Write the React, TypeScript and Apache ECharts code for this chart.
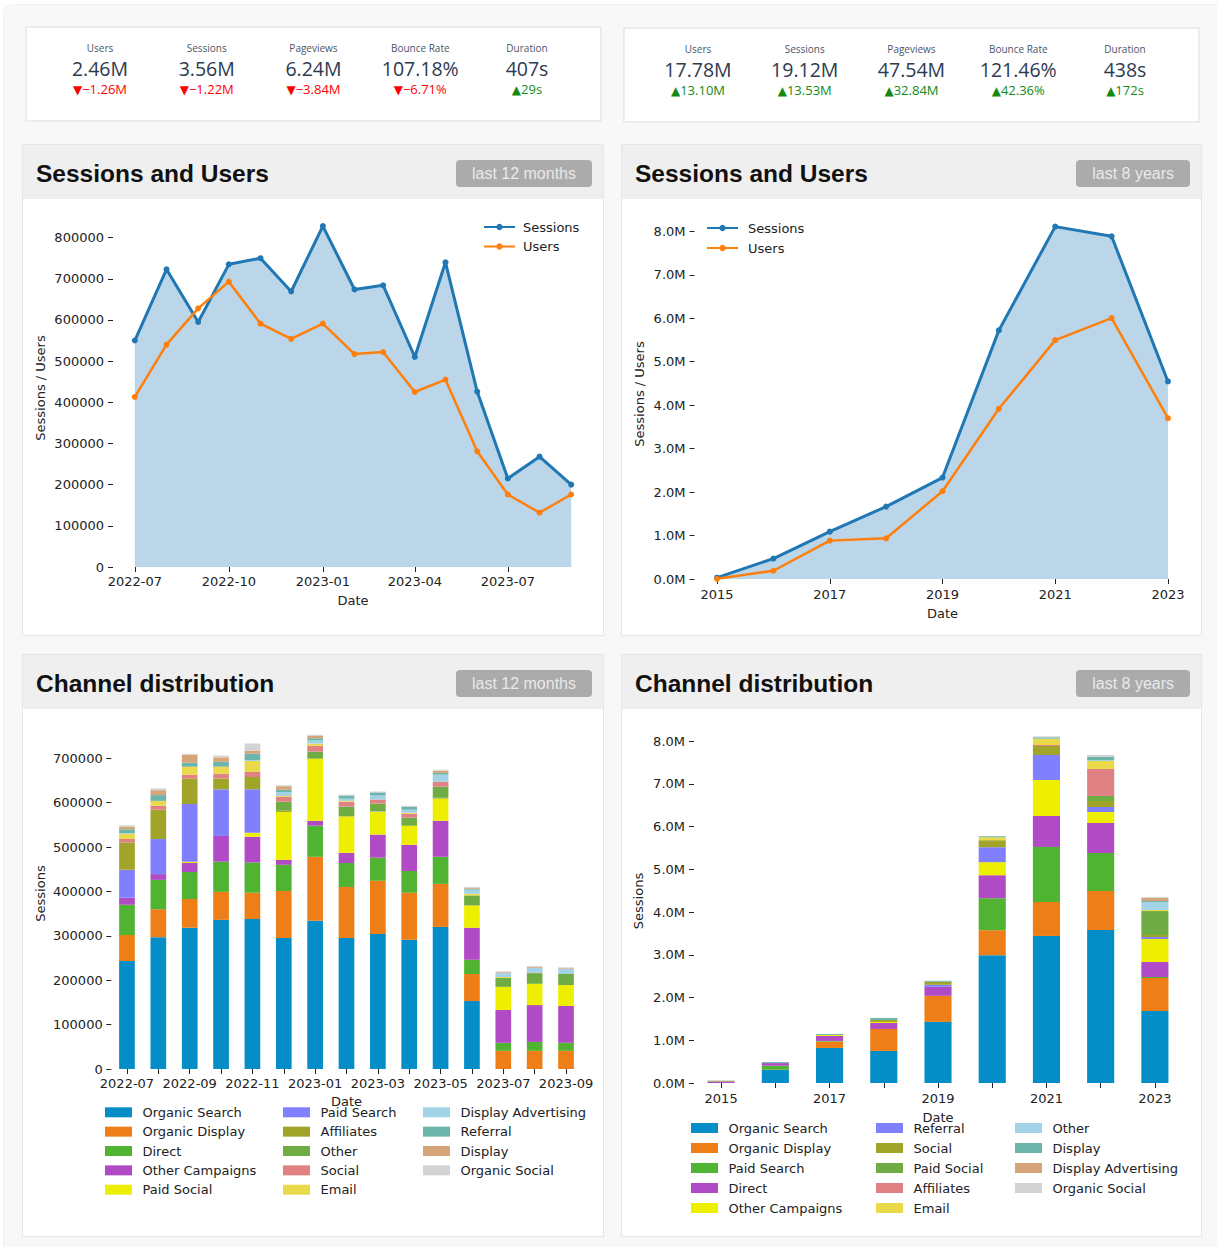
import React, { useEffect, useRef } from "react";
import * as echarts from "echarts";

const W = 1217;
const H = 1247;
const FONT = '"DejaVu Sans", sans-serif';
const TXT = "#222";

// ---------- KPI data ----------
const kpiLabels = ["Users", "Sessions", "Pageviews", "Bounce Rate", "Duration"];
const kpiLeftValues = ["2.46M", "3.56M", "6.24M", "107.18%", "407s"];
const kpiLeftDeltas = ["\u22121.26M", "\u22121.22M", "\u22123.84M", "\u22126.71%", "29s"];
const kpiLeftUp = [false, false, false, false, true];
const kpiRightValues = ["17.78M", "19.12M", "47.54M", "121.46%", "438s"];
const kpiRightDeltas = ["13.10M", "13.53M", "32.84M", "42.36%", "172s"];
const kpiRightUp = [true, true, true, true, true];

// ---------- Sessions and Users, last 12 months ----------
const months = ["2022-07", "2022-08", "2022-09", "2022-10", "2022-11", "2022-12", "2023-01", "2023-02", "2023-03", "2023-04", "2023-05", "2023-06", "2023-07", "2023-08", "2023-09"];
const monthSessions = [550000, 723000, 595000, 735000, 750000, 669000, 828000, 674000, 684000, 510000, 740000, 426000, 215000, 268000, 200000];
const monthUsers = [413000, 540000, 628000, 693000, 591000, 554000, 591000, 517000, 522000, 425000, 455000, 281000, 176000, 132000, 176000];
const monthTickLabels = ["2022-07", "2022-10", "2023-01", "2023-04", "2023-07"];
const monthYTicks = [0, 100000, 200000, 300000, 400000, 500000, 600000, 700000, 800000];

// ---------- Sessions and Users, last 8 years (millions) ----------
const years = [2015, 2016, 2017, 2018, 2019, 2020, 2021, 2022, 2023];
const yearSessions = [0.03, 0.47, 1.09, 1.666, 2.334, 5.72, 8.108, 7.885, 4.545];
const yearUsers = [0.005, 0.19, 0.883, 0.937, 2.02, 3.916, 5.497, 6.004, 3.7];
const yearTickLabels = [2015, 2017, 2019, 2021, 2023];
const yearYTicks = [0, 1, 2, 3, 4, 5, 6, 7, 8];

// ---------- Channel distribution ----------
const channelColors = ["#058dc7", "#ee7f18", "#50b432", "#b04bc5", "#eeee00", "#8080ff", "#a0a428", "#6fad44", "#e08284", "#ebd94c", "#a2d2e6", "#6cb5aa", "#d5a579", "#d3d3d3"];

const monthChannels = ["Organic Search", "Organic Display", "Direct", "Other Campaigns", "Paid Social", "Paid Search", "Affiliates", "Other", "Social", "Email", "Display Advertising", "Referral", "Display", "Organic Social"];
// thousands of sessions, one row per month, columns in monthChannels order
const monthChannelK = [
  [243, 59, 68, 16, 0, 63, 60, 1, 8, 12, 1, 9, 6, 3],
  [297, 63, 66, 13, 0, 79, 66, 0, 9, 11, 0, 13, 11, 4],
  [318, 65, 61, 20, 3, 130, 57, 0, 9, 18, 0, 9, 18, 2],
  [336, 63, 68, 58, 0, 105, 24, 0, 11, 16, 0, 11, 10, 4],
  [338, 59, 68, 58, 9, 98, 28, 0, 11, 25, 2, 14, 7, 16],
  [295, 106, 59, 11, 108, 0, 3, 20, 11, 2, 9, 5, 8, 2],
  [334, 144, 70, 11, 140, 0, 0, 16, 13, 5, 7, 5, 6, 2],
  [295, 115, 54, 23, 82, 0, 0, 22, 11, 2, 5, 7, 0, 2],
  [304, 120, 52, 52, 52, 1, 0, 17, 9, 0, 9, 7, 0, 2],
  [291, 106, 49, 59, 43, 0, 0, 18, 9, 2, 7, 7, 0, 2],
  [320, 97, 61, 81, 50, 0, 2, 25, 11, 0, 16, 4, 5, 2],
  [153, 61, 32, 72, 50, 0, 1, 22, 0, 4, 9, 2, 2, 2],
  [0, 41, 18, 74, 52, 0, 0, 20, 0, 2, 9, 0, 2, 2],
  [0, 41, 20, 83, 48, 0, 0, 24, 1, 0, 11, 0, 2, 2],
  [0, 41, 18, 83, 47, 0, 0, 25, 0, 0, 11, 0, 2, 2],
];
const monthBarYTicks = [0, 100000, 200000, 300000, 400000, 500000, 600000, 700000];

const yearCategories = ["2015", "2016", "2017", "2018", "2019", "2020", "2021", "2022", "2023"];
const yearChannels = ["Organic Search", "Organic Display", "Paid Search", "Direct", "Other Campaigns", "Referral", "Social", "Paid Social", "Affiliates", "Email", "Other", "Display", "Display Advertising", "Organic Social"];
// millions of sessions, one row per year, columns in yearChannels order
const yearChannelM = [
  [0, 0, 0, 0.035, 0, 0, 0.01, 0.01, 0, 0, 0, 0, 0, 0],
  [0.31, 0, 0.094, 0.062, 0, 0, 0, 0, 0, 0, 0, 0.023, 0, 0],
  [0.82, 0.148, 0.016, 0.117, 0.023, 0, 0, 0, 0, 0, 0, 0.023, 0, 0],
  [0.75, 0.514, 0, 0.14, 0.024, 0, 0.047, 0, 0, 0, 0, 0.047, 0, 0],
  [1.43, 0.61, 0, 0.21, 0, 0.047, 0.071, 0, 0, 0, 0, 0.023, 0, 0],
  [2.99, 0.585, 0.748, 0.538, 0.305, 0.35, 0.164, 0, 0, 0.07, 0, 0.023, 0, 0],
  [3.44, 0.795, 1.287, 0.725, 0.842, 0.585, 0.21, 0, 0.023, 0.14, 0.01, 0.03, 0, 0.023],
  [3.58, 0.912, 0.889, 0.702, 0.257, 0.117, 0.14, 0.117, 0.632, 0.187, 0.02, 0.075, 0, 0.047],
  [1.684, 0.772, 0.024, 0.35, 0.538, 0.047, 0.047, 0.561, 0, 0.024, 0.187, 0.023, 0.07, 0.023],
];
const yearBarYTicks = [0, 1, 2, 3, 4, 5, 6, 7, 8];

// ---------- helpers ----------
const monthTs = (s: string) => {
  const [y, m] = s.split("-");
  return new Date(+y, +m - 1, 1).getTime();
};
const fmtMonth = (v: number) => {
  const d = new Date(v);
  return d.getFullYear() + "-" + String(d.getMonth() + 1).padStart(2, "0");
};
const labelStyle = { fontFamily: FONT, fontSize: 13, color: TXT };
const tickStyle = { show: true, inside: false, length: 5, lineStyle: { color: TXT, width: 1 } };
const nameStyle = { fontFamily: FONT, fontSize: 13, color: TXT };

function lineSeries(name: string, data: any[], color: string, width: number, area: boolean) {
  const s: any = {
    name,
    type: "line",
    data,
    symbol: "circle",
    symbolSize: 6,
    showSymbol: true,
    showAllSymbol: true,
    lineStyle: { color, width },
    itemStyle: { color },
    emphasis: { disabled: true },
    silent: true,
  };
  if (area) s.areaStyle = { color: "rgb(31,119,180)", opacity: 0.3, origin: "start" };
  return s;
}

function lineLegend(left: number, top: number, gap: number, textPad: number) {
  return {
    data: ["Sessions", "Users"],
    orient: "vertical",
    left,
    top,
    padding: 0,
    itemWidth: 31,
    itemHeight: 8,
    itemGap: gap,
    selectedMode: false,
    textStyle: { ...labelStyle, lineHeight: 14, padding: [0, 0, 0, textPad] },
  };
}

// ---------- options ----------
const mT0 = monthTs(months[0]);
const mT1 = monthTs(months[months.length - 1]);
const mPad = (mT1 - mT0) * 0.05;

const optionMonthLine: any = {
  animation: false,
  textStyle: { fontFamily: FONT },
  grid: { left: 113, top: 209, width: 480, height: 358 },
  legend: lineLegend(483, 220, 5.5, 3),
  xAxis: {
    type: "value",
    min: mT0 - mPad,
    max: mT1 + mPad,
    axisLine: { show: false },
    splitLine: { show: false },
    axisTick: { ...tickStyle, customValues: monthTickLabels.map(monthTs) },
    axisLabel: { ...labelStyle, margin: 7.5, customValues: monthTickLabels.map(monthTs), formatter: (v: number) => fmtMonth(v) },
    name: "Date",
    nameLocation: "middle",
    nameGap: 26.5,
    nameTextStyle: nameStyle,
  },
  yAxis: {
    type: "value",
    min: 0,
    max: Math.max(...monthSessions, ...monthUsers) * 1.05,
    axisLine: { show: false },
    splitLine: { show: false },
    axisTick: { ...tickStyle, customValues: monthYTicks },
    axisLabel: { ...labelStyle, margin: 9, customValues: monthYTicks, formatter: (v: number) => String(v) },
    name: "Sessions / Users",
    nameLocation: "middle",
    nameGap: 66.5,
    nameTextStyle: nameStyle,
  },
  series: [
    lineSeries("Sessions", months.map((m, i) => [monthTs(m), monthSessions[i]]), "#1f77b4", 3, true),
    lineSeries("Users", months.map((m, i) => [monthTs(m), monthUsers[i]]), "#ff7f0e", 2.5, false),
  ],
};

const yPad = (years[years.length - 1] - years[0]) * 0.05;
const fmtM = (v: number) => v.toFixed(1) + "M";

const optionYearLine: any = {
  animation: false,
  textStyle: { fontFamily: FONT },
  grid: { left: 694.5, top: 209, width: 496, height: 370 },
  legend: lineLegend(706, 221, 6, 5),
  xAxis: {
    type: "value",
    min: years[0] - yPad,
    max: years[years.length - 1] + yPad,
    axisLine: { show: false },
    splitLine: { show: false },
    axisTick: { ...tickStyle, customValues: yearTickLabels },
    axisLabel: { ...labelStyle, margin: 8.5, customValues: yearTickLabels, formatter: (v: number) => String(v) },
    name: "Date",
    nameLocation: "middle",
    nameGap: 27.5,
    nameTextStyle: nameStyle,
  },
  yAxis: {
    type: "value",
    min: 0,
    max: Math.max(...yearSessions, ...yearUsers) * 1.05,
    axisLine: { show: false },
    splitLine: { show: false },
    axisTick: { ...tickStyle, customValues: yearYTicks },
    axisLabel: { ...labelStyle, margin: 9, customValues: yearYTicks, formatter: fmtM },
    name: "Sessions / Users",
    nameLocation: "middle",
    nameGap: 49,
    nameTextStyle: nameStyle,
  },
  series: [
    lineSeries("Sessions", years.map((y, i) => [y, yearSessions[i]]), "#1f77b4", 3, true),
    lineSeries("Users", years.map((y, i) => [y, yearUsers[i]]), "#ff7f0e", 2.5, false),
  ],
};

function barLegends(names: string[], lefts: number[], top: number, gap: number) {
  const cols = [names.slice(0, 5), names.slice(5, 10), names.slice(10)];
  return cols.map((c, i) => ({
    data: c,
    orient: "vertical",
    left: lefts[i],
    top,
    padding: 0,
    icon: "rect",
    itemWidth: 27,
    itemHeight: 10,
    itemGap: gap,
    selectedMode: false,
    textStyle: { ...labelStyle, lineHeight: 14, padding: [0, 0, 0, 5.5] },
  }));
}

function barSeries(names: string[], rows: number[][], scale: number) {
  return names.map((n, i) => ({
    name: n,
    type: "bar",
    stack: "total",
    barWidth: "50%",
    data: rows.map((r) => r[i] * scale),
    itemStyle: { color: channelColors[i] },
    emphasis: { disabled: true },
    silent: true,
  }));
}

const monthTotals = monthChannelK.map((r) => r.reduce((a, b) => a + b, 0) * 1000);
const optionMonthBar: any = {
  animation: false,
  textStyle: { fontFamily: FONT },
  grid: { left: 111.3, top: 718, width: 470.4, height: 351 },
  legend: barLegends(monthChannels, [105, 283, 423], 1105.3, 5.35),
  xAxis: {
    type: "category",
    data: months,
    boundaryGap: true,
    axisLine: { show: false },
    splitLine: { show: false },
    axisTick: { ...tickStyle, alignWithLabel: true, interval: 0 },
    axisLabel: { ...labelStyle, margin: 7.5, interval: 1 },
    name: "Date",
    nameLocation: "middle",
    nameGap: 25.5,
    nameTextStyle: nameStyle,
  },
  yAxis: {
    type: "value",
    min: 0,
    max: Math.max(...monthTotals) * 1.05,
    axisLine: { show: false },
    splitLine: { show: false },
    axisTick: { ...tickStyle, customValues: monthBarYTicks },
    axisLabel: { ...labelStyle, margin: 8.6, customValues: monthBarYTicks, formatter: (v: number) => String(v) },
    name: "Sessions",
    nameLocation: "middle",
    nameGap: 64.8,
    nameTextStyle: nameStyle,
  },
  series: barSeries(monthChannels, monthChannelK, 1000),
};

const yearTotals = yearChannelM.map((r) => r.reduce((a, b) => a + b, 0));
const optionYearBar: any = {
  animation: false,
  textStyle: { fontFamily: FONT },
  grid: { left: 694, top: 719, width: 488, height: 364 },
  legend: barLegends(yearChannels, [691, 876, 1015], 1121, 6),
  xAxis: {
    type: "category",
    data: yearCategories,
    boundaryGap: true,
    axisLine: { show: false },
    splitLine: { show: false },
    axisTick: { ...tickStyle, alignWithLabel: true, interval: 0 },
    axisLabel: { ...labelStyle, margin: 8.5, interval: 1 },
    name: "Date",
    nameLocation: "middle",
    nameGap: 27.5,
    nameTextStyle: nameStyle,
  },
  yAxis: {
    type: "value",
    min: 0,
    max: Math.max(...yearTotals) * 1.05,
    axisLine: { show: false },
    splitLine: { show: false },
    axisTick: { ...tickStyle, customValues: yearBarYTicks },
    axisLabel: { ...labelStyle, margin: 9, customValues: yearBarYTicks, formatter: fmtM },
    name: "Sessions",
    nameLocation: "middle",
    nameGap: 49.5,
    nameTextStyle: nameStyle,
  },
  series: barSeries(yearChannels, yearChannelM, 1),
};

// ---------- components ----------
function EChart({ option }: { option: any }) {
  const ref = useRef<HTMLDivElement>(null);
  useEffect(() => {
    if (!ref.current) return;
    const chart = echarts.init(ref.current, null, { renderer: "svg" });
    chart.setOption(option);
    return () => chart.dispose();
  }, [option]);
  return <div ref={ref} style={{ position: "absolute", left: 0, top: 0, width: W, height: H, pointerEvents: "none" }} />;
}

function KpiBox({ left, top, width, values, deltas, up }: { left: number; top: number; width: number; values: string[]; deltas: string[]; up: boolean[] }) {
  return (
    <div
      style={{
        position: "absolute",
        left,
        top,
        width,
        height: 96,
        boxSizing: "border-box",
        background: "#fff",
        border: "2px solid #ececec",
        fontFamily: '"Open Sans", "Noto Sans", sans-serif',
      }}
    >
      {kpiLabels.map((lab, i) => {
        const cx = 73 + i * 106.75;
        return (
          <React.Fragment key={lab}>
            <div style={{ position: "absolute", left: cx - 60, width: 120, top: 14, lineHeight: "12px", fontSize: 10, color: "#4a5568", textAlign: "center" }}>{lab}</div>
            <div style={{ position: "absolute", left: cx - 60, width: 120, top: 30, lineHeight: "22px", fontSize: 19.5, color: "#2d3a50", textAlign: "center" }}>{values[i]}</div>
            <div style={{ position: "absolute", left: cx - 60, width: 120, top: 53, lineHeight: "16px", fontSize: 13, color: up[i] ? "#138a13" : "#ff0000", textAlign: "center" }}>
              <span style={{ fontFamily: '"DejaVu Sans", sans-serif', fontSize: 12 }}>{up[i] ? "\u25B2" : "\u25BC"}</span>
              {deltas[i]}
            </div>
          </React.Fragment>
        );
      })}
    </div>
  );
}

function Panel({ left, top, width, height, title, badge }: { left: number; top: number; width: number; height: number; title: string; badge: string }) {
  return (
    <div
      style={{
        position: "absolute",
        left,
        top,
        width,
        height,
        boxSizing: "border-box",
        background: "#fff",
        border: "1px solid #e6e6e6",
      }}
    >
      <div
        style={{
          position: "absolute",
          left: 0,
          top: 0,
          right: 0,
          height: 54,
          background: "#efefef",
        }}
      >
        <div
          style={{
            position: "absolute",
            left: 13,
            top: 14,
            lineHeight: "30px",
            fontSize: 24.5,
            fontWeight: "bold",
            color: "#111",
            fontFamily: '"Liberation Sans", Arial, sans-serif',
          }}
        >
          {title}
        </div>
        <div
          style={{
            position: "absolute",
            right: 11,
            top: 15,
            height: 27,
            lineHeight: "27px",
            padding: "0 16px",
            fontSize: 16,
            color: "#e9e9e9",
            background: "#ababab",
            borderRadius: 4,
            fontFamily: '"Liberation Sans", Arial, sans-serif',
          }}
        >
          {badge}
        </div>
      </div>
    </div>
  );
}

export default function App() {
  return (
    <div style={{ position: "absolute", left: 0, top: 0, width: W, height: H, overflow: "hidden", background: "#fff" }}>
      <div
        style={{
          position: "absolute",
          left: 3,
          top: 4,
          width: W + 10,
          height: H + 10,
          background: "#f8f8f8",
          borderRadius: 10,
          border: "1px solid #f1f1f1",
        }}
      />
      <KpiBox left={25} top={26} width={577} values={kpiLeftValues} deltas={kpiLeftDeltas} up={kpiLeftUp} />
      <KpiBox left={623} top={27} width={577} values={kpiRightValues} deltas={kpiRightDeltas} up={kpiRightUp} />
      <Panel left={22} top={144} width={582} height={492} title="Sessions and Users" badge="last 12 months" />
      <Panel left={621} top={144} width={581} height={492} title="Sessions and Users" badge="last 8 years" />
      <Panel left={22} top={654} width={582} height={583} title="Channel distribution" badge="last 12 months" />
      <Panel left={621} top={654} width={581} height={583} title="Channel distribution" badge="last 8 years" />
      <EChart option={optionMonthLine} />
      <EChart option={optionYearLine} />
      <EChart option={optionMonthBar} />
      <EChart option={optionYearBar} />
    </div>
  );
}
